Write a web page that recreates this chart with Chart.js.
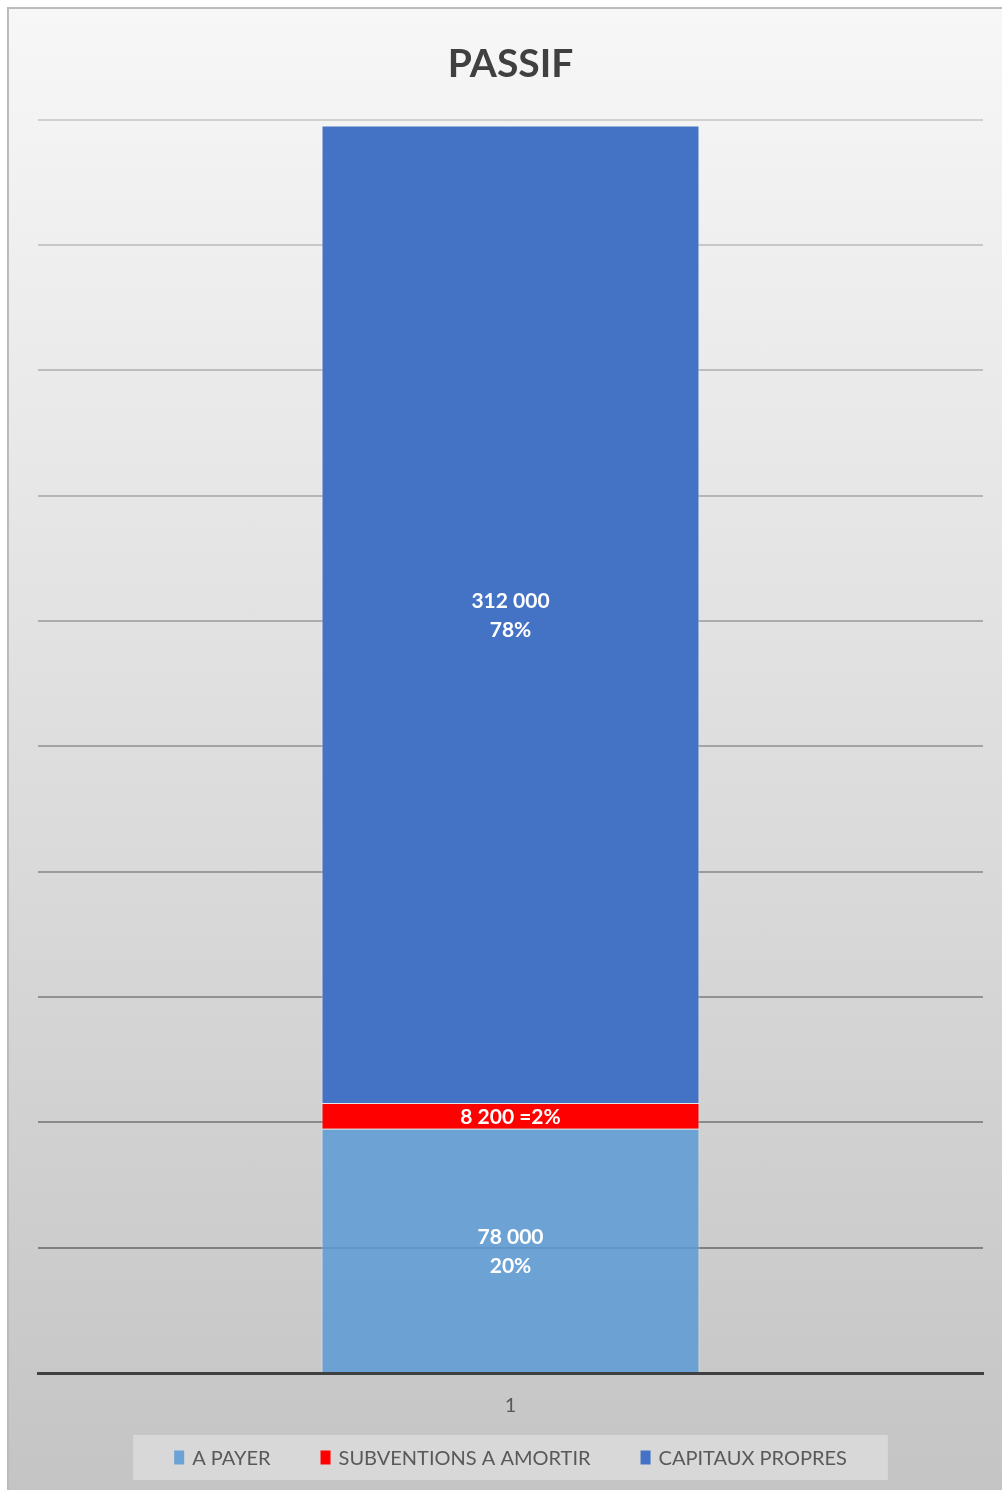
<!DOCTYPE html>
<html>
<head>
<meta charset="utf-8">
<script src="https://cdn.jsdelivr.net/npm/chart.js@4"></script>
<style>
  html, body { margin: 0; padding: 0; background: #ffffff; width: 1002px; height: 1490px; overflow: hidden; }
  #frame {
    position: absolute; left: 7px; top: 7px; width: 1100px; height: 1600px;
    border-left: 2px solid #bcbcbc; border-top: 2px solid #bcbcbc;
    background: linear-gradient(to bottom, #f7f7f7 0px, #e4e4e4 560px, #c4c4c4 1490px);
  }
  #c { position: absolute; left: 0; top: 0; }
</style>
</head>
<body>
<div id="frame"></div>
<canvas id="c" width="1002" height="1490"></canvas>
<script>
// ---- data ----
const categories = ['1'];
const seriesNames = ['A PAYER', 'SUBVENTIONS A AMORTIR', 'CAPITAUX PROPRES'];
const aPayer = [78000];
const subventions = [8200];
const capitaux = [312000];
const yMin = 0;
const yMax = 400000;
const yStep = 40000;

// ---- helpers ----
function fmt(n) {
  return String(Math.round(n)).replace(/\B(?=(\d{3})+(?!\d))/g, ' ');
}

const dataLabelPlugin = {
  id: 'stackLabels',
  afterDatasetsDraw(chart) {
    const ctx = chart.ctx;
    const ds = chart.data.datasets;
    const total = ds.reduce((s, d) => s + d.data[0], 0);
    ctx.save();
    ctx.fillStyle = '#ffffff';
    ctx.font = 'bold 21px Lato';
    ctx.textAlign = 'center';
    ctx.textBaseline = 'middle';
    ds.forEach((d, i) => {
      const meta = chart.getDatasetMeta(i);
      meta.data.forEach((el, j) => {
        const v = d.data[j];
        const pct = Math.round(v / total * 100) + '%';
        const cy = (el.y + el.base) / 2;
        if (d.singleLine) {
          ctx.fillText(fmt(v) + ' =' + pct, el.x, cy + 1);
        } else {
          ctx.fillText(fmt(v), el.x, cy - 13);
          ctx.fillText(pct, el.x, cy + 16);
        }
      });
    });
    ctx.restore();
  }
};

const legendPlugin = {
  id: 'boxLegend',
  afterDraw(chart) {
    const ctx = chart.ctx;
    const ds = chart.data.datasets;
    ctx.save();
    ctx.font = '20px Lato';
    const box = 10, gapText = 8, gapItem = 50, margin = 41;
    const widths = ds.map(d => box + gapText + ctx.measureText(d.label).width);
    const itemsW = widths.reduce((a, b) => a + b, 0) + gapItem * (ds.length - 1);
    const cx = (chart.chartArea.left + chart.chartArea.right) / 2;
    const bgW = itemsW + margin * 2;
    const top = 1435, h = 45;
    ctx.fillStyle = '#d8d8d8';
    ctx.fillRect(cx - bgW / 2, top, bgW, h);
    let x = cx - itemsW / 2;
    const cy = top + h / 2;
    ds.forEach((d, i) => {
      ctx.fillStyle = d.legendColor || d.backgroundColor;
      ctx.fillRect(x, cy - 7, box, 14);
      ctx.fillStyle = '#595959';
      ctx.textAlign = 'left';
      ctx.textBaseline = 'middle';
      ctx.fillText(d.label, x + box + gapText, cy + 1);
      x += widths[i] + gapItem;
    });
    ctx.restore();
  }
};

function gridColor(c) {
  const n = (yMax - yMin) / yStep;
  const i = c.index;
  if (i === 0) return 'rgba(0,0,0,0)';
  const t = (n - i) / (n - 1);
  const v = Math.round(208 - t * 80);
  return `rgb(${v},${v},${v})`;
}

new Chart(document.getElementById('c'), {
  type: 'bar',
  data: {
    labels: categories,
    datasets: [
      { label: seriesNames[0], data: aPayer, backgroundColor: 'rgba(91,155,213,0.85)', legendColor: '#6ca3d6', borderColor: 'rgba(255,255,255,0.45)', borderWidth: 1, barPercentage: 0.4, categoryPercentage: 1 },
      { label: seriesNames[1], data: subventions, backgroundColor: '#ff0000', borderColor: 'rgba(255,255,255,0.45)', borderWidth: 1, barPercentage: 0.4, categoryPercentage: 1, singleLine: true },
      { label: seriesNames[2], data: capitaux, backgroundColor: '#4472c4', borderColor: 'rgba(255,255,255,0.45)', borderWidth: 1, barPercentage: 0.4, categoryPercentage: 1 }
    ]
  },
  options: {
    responsive: false,
    animation: false,
    events: [],
    layout: { padding: { left: 38, right: 19, top: 0, bottom: 51 } },
    plugins: {
      legend: { display: false },
      tooltip: { enabled: false },
      title: {
        display: true,
        text: 'PASSIF',
        color: '#404040',
        font: { family: 'Lato', size: 39, weight: 'bold' },
        padding: { top: 41, bottom: 32 }
      }
    },
    scales: {
      x: {
        stacked: true,
        z: 1,
        grid: { display: false, drawTicks: false },
        border: { display: true, color: '#404040', width: 3 },
        ticks: { color: '#595959', font: { family: 'Lato', size: 20 }, padding: 21 }
      },
      y: {
        stacked: true,
        min: yMin,
        max: yMax,
        ticks: { display: false, stepSize: yStep },
        grid: { color: gridColor, lineWidth: 2, drawTicks: false },
        border: { display: false }
      }
    }
  },
  plugins: [dataLabelPlugin, legendPlugin]
});
</script>
</body>
</html>
